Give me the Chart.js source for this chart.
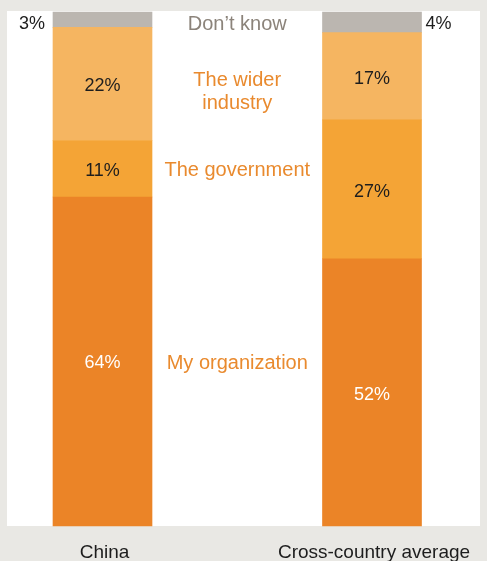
<!DOCTYPE html>
<html>
<head>
<meta charset="utf-8">
<script src="https://cdn.jsdelivr.net/npm/chart.js@4"></script>
<style>
    html, body { margin: 0; padding: 0; background: #e9e8e4; }
    canvas { display: block; }
</style>
</head>
<body>
<canvas id="shareChart" width="487" height="561"></canvas>
<script>
/* Data (percent of respondents) */
const categories = ["China", "Cross-country average"];
const seriesNames = ["My organization", "The government", "The wider industry", "Don’t know"];
const myOrganization = [64, 52];
const government = [11, 27];
const widerIndustry = [22, 17];
const dontKnow = [3, 4];

/* Palette */
const COLORS = {
    page: "#e9e8e4",
    panel: "#ffffff",
    segments: ["#eb8427", "#f4a436", "#f5b561", "#bbb6b0"],
    seriesText: ["#e98a2e", "#e98a2e", "#e98a2e", "#8b837a"],
    dark: "#1d1d1d",
    light: "#ffffff",
};

const FONT = "'Liberation Sans', Arial, sans-serif";

/* White panel behind the bars */
const panelPlugin = {
    id: "panel",
    beforeDraw(chart) {
        const { ctx, chartArea } = chart;
        ctx.save();
        ctx.fillStyle = COLORS.panel;
        ctx.fillRect(7, chartArea.top - 1, 473, chartArea.bottom - chartArea.top + 1);
        ctx.restore();
    },
};

/* Values inside/next to the bars and series names between the bars */
const labelPlugin = {
    id: "segmentLabels",
    afterDatasetsDraw(chart) {
        const { ctx } = chart;
        const last = chart.data.datasets.length - 1;
        ctx.save();
        ctx.textBaseline = "middle";

        chart.data.datasets.forEach((ds, i) => {
            const bars = chart.getDatasetMeta(i).data;
            const centers = bars.map(b => (b.y + b.base) / 2);

            bars.forEach((bar, j) => {
                const text = ds.data[j] + "%";
                ctx.font = "18px " + FONT;
                if (i === last) {
                    // small top segment: value outside the bar
                    const y = Math.max(...centers) + 2;
                    ctx.fillStyle = COLORS.dark;
                    if (j === 0) {
                        ctx.textAlign = "right";
                        ctx.fillText(text, bar.x - bar.width / 2 - 8, y);
                    } else {
                        ctx.textAlign = "left";
                        ctx.fillText(text, bar.x + bar.width / 2 + 4, y);
                    }
                } else {
                    ctx.textAlign = "center";
                    ctx.fillStyle = i === 0 ? COLORS.light : COLORS.dark;
                    ctx.fillText(text, bar.x, centers[j] + 2 + j);
                }
            });

            // series name halfway between the two bars
            const midX = (bars[0].x + bars[0].width / 2 + bars[1].x - bars[1].width / 2) / 2;
            const lines = ds.label === "The wider industry" ? ["The wider", "industry"] : [ds.label];
            let y = i === last ? Math.max(...centers) : centers[0];
            y -= (lines.length - 1) * 23 / 2 - (lines.length - 1) * 6;
            ctx.font = "20px " + FONT;
            ctx.textAlign = "center";
            ctx.fillStyle = COLORS.seriesText[i];
            lines.forEach((line, k) => ctx.fillText(line, midX, y + k * 23 + 2));
        });
        ctx.restore();
    },
};

const seriesValues = [myOrganization, government, widerIndustry, dontKnow];

new Chart(document.getElementById("shareChart"), {
    type: "bar",
    data: {
        labels: categories,
        datasets: seriesNames.map((name, i) => ({
            label: name,
            data: seriesValues[i],
            backgroundColor: COLORS.segments[i],
            borderWidth: 0,
            barThickness: 99,
            clip: false,
        })),
    },
    options: {
        responsive: false,
        animation: false,
        devicePixelRatio: 1,
        layout: { padding: { left: 102.5, right: 115, top: 12, bottom: 0 } },
        plugins: {
            legend: { display: false },
            tooltip: { enabled: false },
        },
        scales: {
            x: {
                stacked: true,
                offset: false,
                grid: { display: false },
                border: { display: false },
                ticks: {
                    color: COLORS.dark,
                    font: { family: FONT, size: 19 },
                    padding: 7,
                    labelOffset: 2,
                    maxRotation: 0,
                    autoSkip: false,
                },
                afterFit: scale => { scale.height = 35; },
            },
            y: {
                stacked: true,
                display: false,
                min: 0,
                max: 100,
            },
        },
    },
    plugins: [panelPlugin, labelPlugin],
});
</script>
</body>
</html>
